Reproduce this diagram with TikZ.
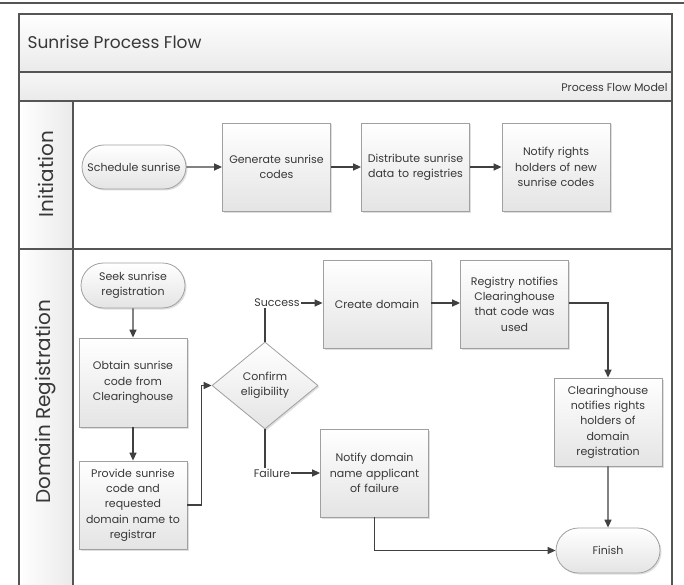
\documentclass[tikz,border=0pt]{standalone}
\usepackage{fontspec}
\setmainfont{Poppins}
\usetikzlibrary{shapes.geometric,shapes.misc,arrows.meta,shadows}
\definecolor{framec}{HTML}{555555}
\definecolor{boxc}{HTML}{A0A0A0}
\definecolor{boxbot}{HTML}{E4E4E4}
\definecolor{arrc}{HTML}{404040}
\definecolor{txt}{HTML}{383838}
\definecolor{bandc}{HTML}{EAEAEA}
\begin{document}
\begin{tikzpicture}[x=1pt,y=-1pt,
  every node/.style={text=txt},
  lbl/.style={font=\fontsize{11}{15.3}\selectfont},
  shad/.style={drop shadow={shadow xshift=1.5pt,shadow yshift=-1.5pt,opacity=0.25,fill=black!50}},
  box/.style={rectangle,draw=boxc,line width=0.8pt,top color=white,bottom color=boxbot,
    minimum width=107pt,minimum height=88pt,inner sep=2pt,align=center,text width=104pt,lbl,shad},
  term/.style={rounded rectangle,draw=boxc,line width=0.8pt,top color=white,bottom color=boxbot,
    minimum width=108pt,minimum height=44pt,inner sep=2pt,align=center,lbl,shad},
  decide/.style={diamond,draw=boxc,line width=0.8pt,top color=white,bottom color=boxbot,
    minimum width=106pt,minimum height=87pt,inner sep=0pt,aspect=1.22,align=center,lbl,shad},
  flow/.style={draw=arrc,line width=1.4pt,-{Triangle[length=8pt,width=7pt]}},
  plain/.style={draw=arrc,line width=1.4pt},
  frame/.style={draw=framec,line width=1.2pt},
  lanelbl/.style={rotate=90,font=\fontsize{20}{22}\selectfont,text=txt}
]
\useasboundingbox (0,0) rectangle (684,585);
\fill[white] (0,0) rectangle (684,585);
% frame
\draw[frame] (0,3) -- (684,3);
\shade[top color=white,bottom color=bandc] (19,14) rectangle (672,72);
\shade[top color=white!60!bandc,bottom color=bandc] (19,72) rectangle (672,101);
\shade[left color=white,right color=bandc] (19,101) rectangle (73,600);
\draw[frame] (19,14) rectangle (672,72);
\draw[frame] (19,72) rectangle (672,101);
\draw[frame] (19,101) rectangle (672,249);
\draw[frame] (19,249) -- (19,600) (672,249) -- (672,600);
\draw[frame] (73,101) -- (73,600);
\node[anchor=west,font=\fontsize{17}{20}\selectfont] (title) at (24,42) {Sunrise Process Flow};
\node[anchor=east,lbl] (model) at (671,87) {Process Flow Model};
\node[lanelbl] (lane1) at (46,174) {Initiation};
\node[lanelbl] (lane2) at (46,402) {Domain Registration};
% initiation lane
\node[term] (sched) at (134,167) {Schedule sunrise};
\node[box] (gen) at (276.5,167) {Generate sunrise\\codes};
\node[box] (dist) at (415.5,167) {Distribute sunrise\\data to registries};
\node[box] (notr) at (556,167) {Notify rights\\holders of new\\sunrise codes};
% domain registration lane
\node[term,minimum height=45pt] (seek) at (133,285.5) {Seek sunrise\\registration};
\node[box,minimum height=89pt] (obtain) at (133,382.5) {Obtain sunrise\\code from\\Clearinghouse};
\node[box] (provide) at (133,505) {Provide sunrise\\code and\\requested\\domain name to\\registrar};
\node[decide] (confirm) at (265,385.5) {Confirm\\eligibility};
\node[lbl,inner sep=1pt] (succ) at (277,303) {Success};
\node[lbl,inner sep=1pt] (fail) at (272,473) {Failure};
\node[box] (create) at (377,304) {Create domain};
\node[box] (registry) at (514.5,304) {Registry notifies\\Clearinghouse\\that code was\\used};
\node[box] (chn) at (608,422) {Clearinghouse\\notifies rights\\holders of\\domain\\registration};
\node[box] (notf) at (374.5,473) {Notify domain\\name applicant\\of failure};
\node[term,minimum height=45pt] (finish) at (608,550.5) {Finish};
% connectors
\draw[flow] (sched) -- (gen);
\draw[flow] (gen) -- (dist);
\draw[flow] (dist) -- (notr);
\draw[flow] (seek) -- (obtain);
\draw[flow] (obtain) -- (provide);
\draw[flow] (provide.east) -- ++(14,0) |- (confirm.west);
\draw[plain] (confirm.north) -- (confirm.north |- succ.south);
\draw[flow] (succ.east) -- (create.west |- succ.east);
\draw[flow] (create.east |- succ.east) -- (registry.west |- succ.east);
\draw[flow] (registry.east |- succ.east) -| (chn.north);
\draw[flow] (chn) -- (finish);
\draw[plain] (confirm.south) -- (confirm.south |- fail.north);
\draw[flow] (fail.east) -- (notf.west |- fail.east);
\draw[flow] (notf.south) |- (finish.west);
\end{tikzpicture}
\end{document}
